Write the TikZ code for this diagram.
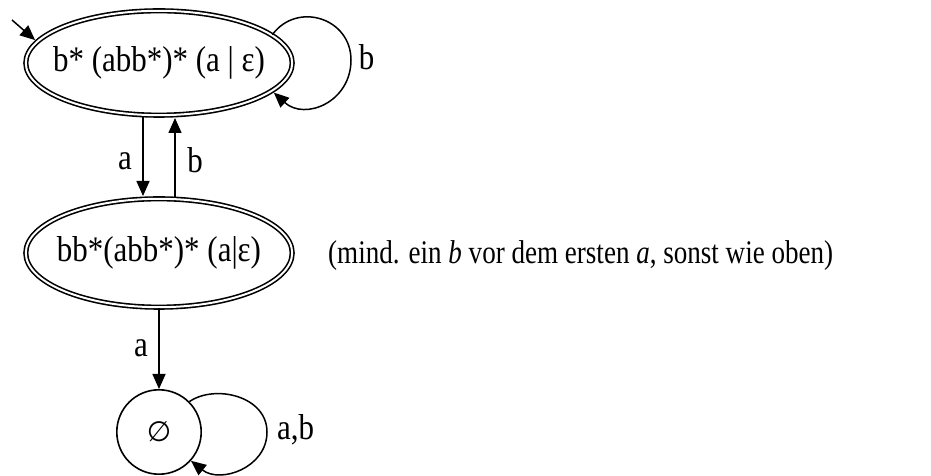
\documentclass[tikz,border=0pt]{standalone}
\usepackage{fontspec}
\setmainfont{Liberation Serif}
\newfontfamily\symfont{DejaVu Sans}
\usetikzlibrary{arrows.meta,shapes.geometric}
\newcommand{\sq}[1]{\scalebox{0.86}[1]{#1}}
\newcommand{\inner}[1]{\makebox[0pt][c]{\raisebox{-5pt}{\sq{#1}}}}
\begin{document}
\begin{tikzpicture}[x=1pt,y=1pt,
  state/.style={draw, double, line width=1.6pt, double distance=2pt, ellipse,
    inner sep=0pt, minimum width=266.4pt, font=\fontsize{36}{43}\selectfont},
  sink/.style={draw, circle, line width=1.6pt, inner sep=0pt, minimum size=84.4pt},
  edge/.style={line width=1.5pt, -{Triangle[length=15pt,width=13pt]}},
  lbl/.style={inner sep=0pt, font=\fontsize{36}{43}\selectfont},
  note/.style={inner sep=0pt, font=\fontsize{33}{40}\selectfont}]
\useasboundingbox (0,0) rectangle (931,476);
\node[state, minimum height=104.4pt] (s0) at (159,413) {\inner{b* (abb*)* (a | ε)}};
\node[state, minimum height=108.4pt] (s1) at (159,223) {\inner{bb*(abb*)* (a|ε)}};
\node[sink] (e) at (159,44) {\symfont\fontsize{28}{32}\selectfont ∅};
\coordinate (init) at (12,456);
\draw[edge, shorten >=2pt] (init) -- (s0.170);
\draw[edge, shorten >=2pt] (s0.14) .. controls (297,475) and (351,458) .. (351,416)
   .. controls (351,374) and (305,355) .. (s0.-14);
\node[lbl] (lb0) at (366.5,419) {\sq{b}};
\draw[edge, shorten >=2pt] ([xshift=-16pt]s0.south) -- ([xshift=-16pt]s1.north);
\node[lbl] (la01) at (125,314.5) {\sq{a}};
\draw[edge, shorten >=2pt] ([xshift=16pt]s1.north) -- ([xshift=16pt]s0.south);
\node[lbl] (lb10) at (195,315.5) {\sq{b}};
\draw[edge] (s1.south) -- (e.north);
\node[lbl] (la1e) at (141,128) {\sq{a}};
\draw[edge] (e.45) .. controls (215,92) and (267,80) .. (267,44)
   .. controls (267,8) and (220,-8) .. (e.-42);
\node[lbl, anchor=base west] (lab) at (277,36) {\sq{a,b}};
\node[note, anchor=base west] (txt) at (328,212) {\scalebox{0.82}[1]{(mind. ein \textit{b} vor dem ersten \textit{a}, sonst wie oben)}};
\end{tikzpicture}
\end{document}
